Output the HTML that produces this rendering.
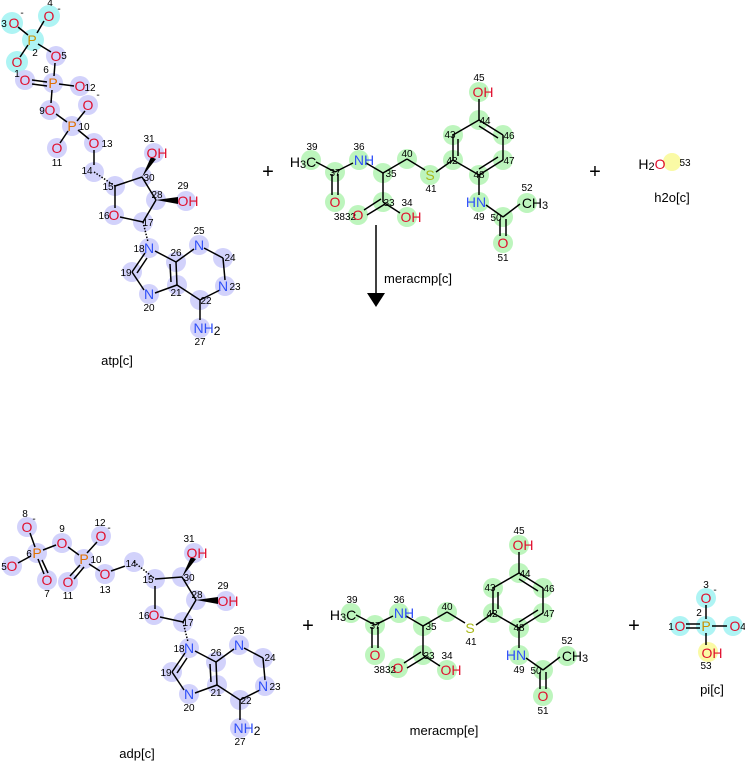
<!DOCTYPE html>
<html><head><meta charset="utf-8"><style>
html,body{margin:0;padding:0;background:#fff;}
svg{display:block;font-family:"Liberation Sans",sans-serif;}
.n{font-size:10px;fill:#000;text-anchor:middle;}
.a{font-size:14px;text-anchor:middle;dominant-baseline:central;}
.O{fill:#e0102e;}.N{fill:#3050f8;}.S{fill:#a8b818;}.P{fill:#e07000;}.C{fill:#000;}
.lb{font-size:13px;fill:#000;text-anchor:middle;}
.pl{font-size:20px;fill:#000;text-anchor:middle;}
line{stroke:#000;stroke-width:1.5;}
.v circle{fill:#d2d2fb;}.g circle{fill:#bdf5bd;}
</style></head><body>
<svg width="745" height="763" viewBox="0 0 745 763">
<!-- ATP -->
<g>
<circle cx="12" cy="23" r="11" fill="#aef4f4"/><circle cx="49" cy="16" r="11" fill="#aef4f4"/><circle cx="33" cy="40" r="11" fill="#aef4f4"/><circle cx="17" cy="62" r="11" fill="#aef4f4"/>
<g class="v">
<circle cx="56" cy="56" r="10"/><circle cx="53" cy="83" r="10"/><circle cx="25" cy="80" r="10"/><circle cx="80" cy="86" r="10"/><circle cx="50" cy="110" r="10"/><circle cx="88" cy="105" r="10"/><circle cx="72" cy="126" r="10"/><circle cx="57" cy="148" r="10"/><circle cx="94" cy="143" r="10"/><circle cx="94" cy="172" r="10"/><circle cx="115" cy="186" r="10"/><circle cx="142" cy="177" r="10"/><circle cx="154" cy="153" r="10"/><circle cx="156" cy="200" r="10"/><circle cx="186" cy="201" r="10"/><circle cx="143" cy="222" r="10"/><circle cx="114" cy="215" r="10"/><circle cx="149" cy="248" r="10"/><circle cx="176" cy="262" r="10"/><circle cx="199" cy="245" r="10"/><circle cx="223" cy="258" r="10"/><circle cx="225" cy="286" r="10"/><circle cx="200" cy="300" r="10"/><circle cx="177" cy="285" r="10"/><circle cx="149" cy="294" r="10"/><circle cx="132" cy="272" r="10"/><circle cx="200" cy="328" r="10"/>
</g>
<line x1="18" y1="27" x2="28" y2="35"/><line x1="44" y1="21" x2="37" y2="33"/><line x1="28" y1="45" x2="20" y2="57"/><line x1="38" y1="44" x2="51" y2="52"/>
<line x1="55" y1="63" x2="54" y2="76"/><line x1="32" y1="80" x2="47" y2="82"/><line x1="32" y1="84" x2="47" y2="86"/><line x1="59" y1="84" x2="74" y2="86"/><line x1="52" y1="90" x2="51" y2="103"/><line x1="56" y1="114" x2="67" y2="122"/><line x1="85" y1="111" x2="77" y2="121"/><line x1="68" y1="131" x2="60" y2="143"/><line x1="78" y1="130" x2="89" y2="139"/><line x1="94" y1="150" x2="94" y2="165"/>
<line x1="115" y1="186" x2="142" y2="177"/><line x1="142" y1="177" x2="156" y2="200"/><line x1="156" y1="200" x2="143" y2="222"/><line x1="143" y1="222" x2="120" y2="217"/><line x1="115" y1="208" x2="115" y2="186"/>
<polygon points="142,177 151,157 156,159" fill="#000"/><polygon points="156,200 178,197 178,204" fill="#000"/>
<line x1="94" y1="172" x2="115" y2="186" stroke-dasharray="1.5 1.5" stroke-width="4"/><line x1="143" y1="222" x2="148" y2="242" stroke-dasharray="1.5 1.5" stroke-width="4"/>
<line x1="155" y1="251" x2="176" y2="262"/><line x1="176" y1="262" x2="194" y2="249"/><line x1="204" y1="248" x2="223" y2="258"/><line x1="223" y1="258" x2="225" y2="280"/><line x1="220" y1="290" x2="200" y2="300"/><line x1="200" y1="300" x2="177" y2="285"/><line x1="177" y1="285" x2="176" y2="262"/><line x1="171" y1="282" x2="170" y2="264"/><line x1="200" y1="300" x2="200" y2="320"/><line x1="177" y1="285" x2="155" y2="293"/><line x1="144" y1="290" x2="132" y2="272"/><line x1="132" y1="272" x2="145" y2="253"/><line x1="137" y1="273" x2="147" y2="258"/>
<text class="a O" x="14" y="23">O</text><text class="n" x="4" y="27">3</text><text class="n" x="22" y="16">-</text>
<text class="a O" x="49" y="16">O</text><text class="n" x="50" y="6">4</text><text class="n" x="59" y="12">-</text>
<text class="a" x="32" y="40" fill="#c89000">P</text><text class="n" x="35" y="56">2</text>
<text class="a O" x="17" y="62">O</text>
<text class="a O" x="56" y="56">O</text><text class="n" x="64" y="59">5</text>
<text class="a P" x="53" y="83">P</text><text class="n" x="46" y="73">6</text>
<text class="a O" x="25" y="80">O</text><text class="n" x="17" y="77">1</text>
<text class="a O" x="80" y="86">O</text><text class="n" x="90" y="91">12</text>
<text class="a O" x="50" y="110">O</text><text class="n" x="42" y="114">9</text>
<text class="a O" x="88" y="105">O</text><text class="n" x="98" y="98">-</text>
<text class="a P" x="72" y="126">P</text><text class="n" x="84" y="130">10</text>
<text class="a O" x="57" y="148">O</text><text class="n" x="57" y="166">11</text>
<text class="a O" x="94" y="143">O</text><text class="n" x="107" y="147">13</text>
<text class="n" x="87" y="174">14</text><text class="n" x="108" y="190">15</text><text class="n" x="149" y="181">30</text><text class="n" x="157" y="198">28</text><text class="n" x="148" y="226">17</text>
<text class="a O" x="157" y="153">OH</text><text class="n" x="149" y="142">31</text>
<text class="a O" x="188" y="201">OH</text><text class="n" x="183" y="189">29</text>
<text class="a O" x="114" y="215">O</text><text class="n" x="104" y="219">16</text>
<text class="a N" x="149" y="248">N</text><text class="n" x="139" y="252">18</text><text class="n" x="176" y="256">26</text>
<text class="a N" x="199" y="245">N</text><text class="n" x="199" y="234">25</text><text class="n" x="230" y="261">24</text>
<text class="a N" x="223" y="286">N</text><text class="n" x="235" y="290">23</text><text class="n" x="206" y="304">22</text><text class="n" x="176" y="296">21</text>
<text class="a N" x="149" y="294">N</text><text class="n" x="149" y="311">20</text><text class="n" x="126" y="276">19</text>
<text class="a N" x="207" y="328">NH<tspan fill="#000" font-size="12" dy="3">2</tspan></text><text class="n" x="200" y="345">27</text>
</g>
<text class="lb" x="117" y="365">atp[c]</text>
<text class="pl" x="268" y="178">+</text>
<!-- meracmp[c] -->
<g id="mc">
<g class="g"><circle cx="311" cy="160" r="10"/><circle cx="335" cy="172" r="10"/><circle cx="359" cy="160" r="10"/><circle cx="383" cy="173" r="10"/><circle cx="407" cy="159" r="10"/><circle cx="430" cy="175" r="10" fill="#e6f59a"/><circle cx="453" cy="160" r="10"/><circle cx="453" cy="135" r="10"/><circle cx="479" cy="120" r="10"/><circle cx="479" cy="92" r="10"/><circle cx="503" cy="135" r="10"/><circle cx="503" cy="160" r="10"/><circle cx="479" cy="175" r="10"/><circle cx="479" cy="202" r="10"/><circle cx="503" cy="217" r="10"/><circle cx="527" cy="203" r="10"/><circle cx="503" cy="243" r="10"/><circle cx="335" cy="202" r="10"/><circle cx="383" cy="202" r="10"/><circle cx="358" cy="215" r="10"/><circle cx="407" cy="217" r="10"/></g>
<line x1="316" y1="162" x2="335" y2="172"/><line x1="332" y1="174" x2="332" y2="195"/><line x1="338" y1="174" x2="338" y2="195"/><line x1="335" y1="172" x2="353" y2="163"/><line x1="366" y1="163" x2="383" y2="173"/><line x1="383" y1="173" x2="407" y2="159"/><line x1="407" y1="159" x2="425" y2="170"/><line x1="436" y1="172" x2="453" y2="160"/><line x1="453" y1="160" x2="453" y2="135"/><line x1="453" y1="135" x2="479" y2="120"/><line x1="479" y1="120" x2="503" y2="135"/><line x1="503" y1="135" x2="503" y2="160"/><line x1="503" y1="160" x2="479" y2="175"/><line x1="479" y1="175" x2="453" y2="160"/><line x1="458" y1="156" x2="458" y2="139"/><line x1="479" y1="126" x2="498" y2="138"/><line x1="498" y1="157" x2="479" y2="169"/><line x1="479" y1="120" x2="479" y2="99"/><line x1="479" y1="175" x2="479" y2="195"/><line x1="486" y1="205" x2="503" y2="217"/><line x1="503" y1="217" x2="520" y2="204"/><line x1="500" y1="219" x2="500" y2="236"/><line x1="506" y1="219" x2="506" y2="236"/><line x1="383" y1="173" x2="383" y2="202"/><line x1="383" y1="202" x2="400" y2="213"/><line x1="381" y1="199" x2="364" y2="210"/><line x1="385" y1="204" x2="367" y2="215"/>
<text class="a C" x="303" y="162">H<tspan font-size="11" dy="3">3</tspan><tspan dy="-3">C</tspan></text><text class="n" x="312" y="150">39</text><text class="n" x="335" y="176">37</text>
<text class="a N" x="364" y="160">NH</text><text class="n" x="359" y="150">36</text><text class="n" x="391" y="177">35</text><text class="n" x="407" y="157">40</text>
<text class="a S" x="430" y="175">S</text><text class="n" x="431" y="192">41</text><text class="n" x="452" y="164">42</text><text class="n" x="450" y="138">43</text><text class="n" x="485" y="124">44</text><text class="n" x="509" y="139">46</text><text class="n" x="509" y="164">47</text><text class="n" x="479" y="178">48</text>
<text class="a O" x="483" y="92">OH</text><text class="n" x="479" y="81">45</text>
<text class="a N" x="476" y="202">HN</text><text class="n" x="479" y="220">49</text><text class="n" x="496" y="221">50</text>
<text class="a C" x="535" y="203">CH<tspan font-size="11" dy="3">3</tspan></text><text class="n" x="527" y="191">52</text>
<text class="a O" x="503" y="243">O</text><text class="n" x="503" y="261">51</text>
<text class="a O" x="335" y="202">O</text><text class="n" x="345" y="220">3832</text><text class="a O" x="358" y="215">O</text>
<text class="n" x="389" y="206">33</text><text class="a O" x="411" y="217">OH</text><text class="n" x="407" y="206">34</text>
</g>
<text class="lb" x="418" y="283">meracmp[c]</text>
<line x1="376" y1="225" x2="376" y2="295" stroke-width="5"/><polygon points="367,293 385,293 376,307" fill="#000"/>
<text class="pl" x="595" y="178">+</text>
<circle cx="672" cy="162" r="9" fill="#fafaa5"/>
<text class="a C" x="652" y="164">H<tspan font-size="11" dy="3">2</tspan><tspan dy="-3" fill="#e0102e">O</tspan></text><text class="n" x="685" y="166">53</text>
<text class="lb" x="672" y="202">h2o[c]</text>
<!-- ADP -->
<g>
<g class="v"><circle cx="27" cy="527" r="10"/><circle cx="37" cy="553" r="10"/><circle cx="12" cy="566" r="10"/><circle cx="47" cy="580" r="10"/><circle cx="62" cy="543" r="10"/><circle cx="84" cy="559" r="10"/><circle cx="101" cy="536" r="10"/><circle cx="68" cy="582" r="10"/><circle cx="105" cy="574" r="10"/></g>
<line x1="30" y1="533" x2="35" y2="547"/><line x1="18" y1="563" x2="31" y2="556"/><line x1="38" y1="559" x2="44" y2="574"/><line x1="42" y1="560" x2="48" y2="573"/><line x1="43" y1="550" x2="56" y2="545"/><line x1="68" y1="547" x2="79" y2="555"/><line x1="87" y1="553" x2="97" y2="542"/><line x1="80" y1="565" x2="70" y2="576"/><line x1="84" y1="567" x2="74" y2="579"/><line x1="89" y1="564" x2="100" y2="571"/><line x1="111" y1="571" x2="134" y2="563"/>
<text class="a O" x="27" y="527">O</text><text class="n" x="25" y="517">8</text><text class="n" x="34" y="522">-</text>
<text class="a P" x="37" y="553">P</text><text class="n" x="29" y="557">6</text>
<text class="a O" x="12" y="566">O</text><text class="n" x="4" y="570">5</text>
<text class="a O" x="47" y="580">O</text><text class="n" x="47" y="597">7</text>
<text class="a O" x="62" y="543">O</text><text class="n" x="62" y="532">9</text>
<text class="a P" x="84" y="559">P</text><text class="n" x="96" y="563">10</text>
<text class="a O" x="101" y="536">O</text><text class="n" x="100" y="526">12</text><text class="n" x="109" y="531">-</text>
<text class="a O" x="68" y="582">O</text><text class="n" x="68" y="599">11</text>
<text class="a O" x="105" y="574">O</text><text class="n" x="105" y="593">13</text>
<g transform="translate(40,452)">
<g class="v"><circle cx="94" cy="110" r="10"/><circle cx="115" cy="127" r="10"/></g>
</g>
<g transform="translate(40,452)">
<g class="v"><circle cx="142" cy="125" r="10"/><circle cx="154" cy="101" r="10"/><circle cx="156" cy="148" r="10"/><circle cx="186" cy="149" r="10"/><circle cx="143" cy="170" r="10"/><circle cx="114" cy="163" r="10"/><circle cx="149" cy="196" r="10"/><circle cx="176" cy="210" r="10"/><circle cx="199" cy="193" r="10"/><circle cx="223" cy="206" r="10"/><circle cx="225" cy="234" r="10"/><circle cx="200" cy="248" r="10"/><circle cx="177" cy="233" r="10"/><circle cx="149" cy="242" r="10"/><circle cx="132" cy="220" r="10"/><circle cx="200" cy="276" r="10"/></g>
<line x1="115" y1="127" x2="142" y2="125"/><line x1="142" y1="125" x2="156" y2="148"/><line x1="156" y1="148" x2="143" y2="170"/><line x1="143" y1="170" x2="120" y2="165"/><line x1="115" y1="157" x2="115" y2="134"/>
<polygon points="142,125 151,105 156,107" fill="#000"/><polygon points="156,148 178,145 178,152" fill="#000"/>
<line x1="94" y1="110" x2="115" y2="127" stroke-dasharray="1.5 1.5" stroke-width="4"/><line x1="143" y1="170" x2="148" y2="190" stroke-dasharray="1.5 1.5" stroke-width="4"/>
<line x1="155" y1="199" x2="176" y2="210"/><line x1="176" y1="210" x2="194" y2="197"/><line x1="204" y1="196" x2="223" y2="206"/><line x1="223" y1="206" x2="225" y2="228"/><line x1="220" y1="238" x2="200" y2="248"/><line x1="200" y1="248" x2="177" y2="233"/><line x1="177" y1="233" x2="176" y2="210"/><line x1="171" y1="230" x2="170" y2="212"/><line x1="200" y1="248" x2="200" y2="268"/><line x1="177" y1="233" x2="155" y2="241"/><line x1="144" y1="238" x2="132" y2="220"/><line x1="132" y1="220" x2="145" y2="201"/><line x1="137" y1="221" x2="147" y2="206"/>
<text class="n" x="91" y="115">14</text><text class="n" x="108" y="131">15</text><text class="n" x="149" y="129">30</text><text class="n" x="157" y="146">28</text><text class="n" x="148" y="174">17</text>
<text class="a O" x="157" y="101">OH</text><text class="n" x="149" y="90">31</text>
<text class="a O" x="188" y="149">OH</text><text class="n" x="183" y="137">29</text>
<text class="a O" x="114" y="163">O</text><text class="n" x="104" y="167">16</text>
<text class="a N" x="149" y="196">N</text><text class="n" x="139" y="200">18</text><text class="n" x="176" y="204">26</text>
<text class="a N" x="199" y="193">N</text><text class="n" x="199" y="182">25</text><text class="n" x="230" y="209">24</text>
<text class="a N" x="223" y="234">N</text><text class="n" x="235" y="238">23</text><text class="n" x="206" y="252">22</text><text class="n" x="176" y="244">21</text>
<text class="a N" x="149" y="242">N</text><text class="n" x="149" y="259">20</text><text class="n" x="126" y="224">19</text>
<text class="a N" x="207" y="276">NH<tspan fill="#000" font-size="12" dy="3">2</tspan></text><text class="n" x="200" y="293">27</text>
</g>
</g>
<text class="lb" x="137" y="758">adp[c]</text>
<text class="pl" x="308" y="632">+</text>
<!-- meracmp[e] -->
<g transform="translate(40,453)">
<g class="g"><circle cx="311" cy="160" r="10"/><circle cx="335" cy="172" r="10"/><circle cx="359" cy="160" r="10"/><circle cx="383" cy="173" r="10"/><circle cx="407" cy="159" r="10"/><circle cx="453" cy="160" r="10"/><circle cx="453" cy="135" r="10"/><circle cx="479" cy="120" r="10"/><circle cx="479" cy="92" r="10"/><circle cx="503" cy="135" r="10"/><circle cx="503" cy="160" r="10"/><circle cx="479" cy="175" r="10"/><circle cx="479" cy="202" r="10"/><circle cx="503" cy="217" r="10"/><circle cx="527" cy="203" r="10"/><circle cx="503" cy="243" r="10"/><circle cx="335" cy="202" r="10"/><circle cx="383" cy="202" r="10"/><circle cx="358" cy="215" r="10"/><circle cx="407" cy="217" r="10"/></g>
<line x1="316" y1="162" x2="335" y2="172"/><line x1="332" y1="174" x2="332" y2="195"/><line x1="338" y1="174" x2="338" y2="195"/><line x1="335" y1="172" x2="353" y2="163"/><line x1="366" y1="163" x2="383" y2="173"/><line x1="383" y1="173" x2="407" y2="159"/><line x1="407" y1="159" x2="425" y2="170"/><line x1="436" y1="172" x2="453" y2="160"/><line x1="453" y1="160" x2="453" y2="135"/><line x1="453" y1="135" x2="479" y2="120"/><line x1="479" y1="120" x2="503" y2="135"/><line x1="503" y1="135" x2="503" y2="160"/><line x1="503" y1="160" x2="479" y2="175"/><line x1="479" y1="175" x2="453" y2="160"/><line x1="458" y1="156" x2="458" y2="139"/><line x1="479" y1="126" x2="498" y2="138"/><line x1="498" y1="157" x2="479" y2="169"/><line x1="479" y1="120" x2="479" y2="99"/><line x1="479" y1="175" x2="479" y2="195"/><line x1="486" y1="205" x2="503" y2="217"/><line x1="503" y1="217" x2="520" y2="204"/><line x1="500" y1="219" x2="500" y2="236"/><line x1="506" y1="219" x2="506" y2="236"/><line x1="383" y1="173" x2="383" y2="202"/><line x1="383" y1="202" x2="400" y2="213"/><line x1="381" y1="199" x2="364" y2="210"/><line x1="385" y1="204" x2="367" y2="215"/>
<text class="a C" x="303" y="162">H<tspan font-size="11" dy="3">3</tspan><tspan dy="-3">C</tspan></text><text class="n" x="312" y="150">39</text><text class="n" x="335" y="176">37</text>
<text class="a N" x="364" y="160">NH</text><text class="n" x="359" y="150">36</text><text class="n" x="391" y="177">35</text><text class="n" x="407" y="157">40</text>
<text class="a S" x="430" y="175">S</text><text class="n" x="431" y="192">41</text><text class="n" x="452" y="164">42</text><text class="n" x="450" y="138">43</text><text class="n" x="485" y="124">44</text><text class="n" x="509" y="139">46</text><text class="n" x="509" y="164">47</text><text class="n" x="479" y="178">48</text>
<text class="a O" x="483" y="92">OH</text><text class="n" x="479" y="81">45</text>
<text class="a N" x="476" y="202">HN</text><text class="n" x="479" y="220">49</text><text class="n" x="496" y="221">50</text>
<text class="a C" x="535" y="203">CH<tspan font-size="11" dy="3">3</tspan></text><text class="n" x="527" y="191">52</text>
<text class="a O" x="503" y="243">O</text><text class="n" x="503" y="261">51</text>
<text class="a O" x="335" y="202">O</text><text class="n" x="345" y="220">3832</text><text class="a O" x="358" y="215">O</text>
<text class="n" x="389" y="206">33</text><text class="a O" x="411" y="217">OH</text><text class="n" x="407" y="206">34</text>
</g>
<text class="lb" x="444" y="735">meracmp[e]</text>
<text class="pl" x="634" y="632">+</text>
<!-- Pi -->
<circle cx="706" cy="598" r="10" fill="#aef4f4"/><circle cx="706" cy="626" r="10" fill="#aef4f4"/><circle cx="680" cy="626" r="10" fill="#aef4f4"/><circle cx="733" cy="626" r="10" fill="#aef4f4"/><circle cx="708" cy="652" r="10" fill="#fafaa5"/>
<line x1="706" y1="605" x2="706" y2="619"/><line x1="686" y1="624" x2="700" y2="624"/><line x1="686" y1="628" x2="700" y2="628"/><line x1="712" y1="626" x2="727" y2="626"/><line x1="706" y1="633" x2="706" y2="645"/>
<text class="a O" x="706" y="598">O</text><text class="n" x="706" y="588">3</text><text class="n" x="715" y="593">-</text>
<text class="a" x="706" y="626" fill="#c89000">P</text><text class="n" x="699" y="616">2</text>
<text class="a O" x="680" y="626">O</text><text class="n" x="671" y="630">1</text>
<text class="a O" x="735" y="626">O</text><text class="n" x="743" y="630">4</text>
<text class="a O" x="712" y="653">OH</text><text class="n" x="706" y="669">53</text>
<text class="lb" x="712" y="694">pi[c]</text>
</svg>
</body></html>
